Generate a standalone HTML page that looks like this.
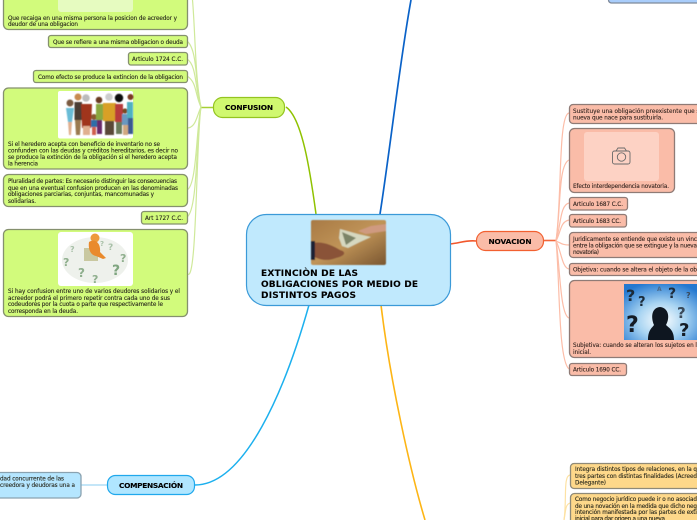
<!DOCTYPE html>
<html><head><meta charset="utf-8"><style>
html,body{margin:0;padding:0;background:#fff;width:697px;height:520px;overflow:hidden}
svg{display:block}
text{font-family:"DejaVu Sans",sans-serif;font-size:5.7px;fill:#26261a;stroke:#26261a;stroke-width:.12}
.b{font-weight:bold;fill:#000;stroke:#000;stroke-width:.1}
.n{fill:#33241f;stroke:#33241f}
.q{stroke:none;font-weight:bold}
.g{fill:#d2fb7c;stroke:#85906e;stroke-width:1.3}
.o{fill:#fabca8;stroke:#8f7b76;stroke-width:1.3}
.y{fill:#fed88a;stroke:#8f8a78;stroke-width:1.3}
.c{fill:#b5e6ff;stroke:#8aa2b0;stroke-width:1.3}
.lg{fill:none;stroke:#cfe99a;stroke-width:1.2}
.ln{fill:none;stroke:#fcbda8;stroke-width:1.2}
</style></head><body>
<svg width="697" height="520" viewBox="0 0 697 520" xmlns="http://www.w3.org/2000/svg">
<defs>
<linearGradient id="m" x1="0" y1="0" x2="1" y2="1"><stop offset="0" stop-color="#a87a45"/><stop offset=".5" stop-color="#c09458"/><stop offset="1" stop-color="#7a5630"/></linearGradient>
<radialGradient id="q" cx=".5" cy=".65" r=".7"><stop offset="0" stop-color="#fff"/><stop offset=".45" stop-color="#a8d4f2"/><stop offset="1" stop-color="#2478d0"/></radialGradient>
<filter id="bl" x="-10%" y="-10%" width="120%" height="120%"><feGaussianBlur stdDeviation=".5"/></filter>
</defs>
<!-- main connectors -->
<path d="M316 214C310 170 302 118 286 107" fill="none" stroke="#8fc200" stroke-width="1.5"/>
<path d="M380 214C390 150 400 60 411 0" fill="none" stroke="#0a62c8" stroke-width="1.7"/>
<path d="M450 244C460 243 466 240 476 241" fill="none" stroke="#f2572b" stroke-width="1.6"/>
<path d="M309 305C285 390 245 485 195 485" fill="none" stroke="#1cb0ee" stroke-width="1.5"/>
<path d="M381 305C390 380 410 470 425 520" fill="none" stroke="#fdb515" stroke-width="1.6"/>
<!-- confusion connectors -->
<path d="M213 107.500H201" fill="none" stroke="#a6d034" stroke-width="1.5"/>
<path class="lg" d="M201 107C195 80 195 20 192 -5"/>
<path class="lg" d="M201 107C195 85 198 50 187 41"/>
<path class="lg" d="M201 107C195 90 197 65 187 59"/>
<path class="lg" d="M201 107C195 95 197 82 187 76"/>
<path class="lg" d="M201 107C197 115 196 128 187 128"/>
<path class="lg" d="M201 107C196 130 197 185 187 190"/>
<path class="lg" d="M201 107C196 135 198 210 187 217"/>
<path class="lg" d="M201 107C196 140 197 290 187 273"/>
<!-- novacion connectors -->
<path d="M543 240.500H556" fill="none" stroke="#f2673a" stroke-width="1.6"/>
<path class="ln" d="M556 241C562 200 558 115 569 113"/>
<path class="ln" d="M556 241C561 210 558 165 569 160"/>
<path class="ln" d="M556 241C561 225 560 205 569 203"/>
<path class="ln" d="M556 241C561 232 560 222 569 220"/>
<path class="ln" d="M556 241C561 243 562 245 569 245"/>
<path class="ln" d="M556 241C561 250 562 268 569 269"/>
<path class="ln" d="M556 241C560 265 560 315 569 318"/>
<path class="ln" d="M556 241C560 280 558 360 569 369"/>
<!-- compensacion / bottom connectors -->
<path d="M107 485H81" fill="none" stroke="#a0d8f4" stroke-width="1.2"/>
<path d="M564 520C567 500 563 476 570 475" fill="none" stroke="#fde2a4" stroke-width="1.2"/>
<path d="M564 520C566 510 565 505 570 503" fill="none" stroke="#fde2a4" stroke-width="1.2"/>

<!-- top right box -->
<rect x="608.500" y="-10" width="100" height="13" rx="3" fill="#a9cdfb" stroke="#7f8a9a" stroke-width="1.3"/>

<!-- central -->
<rect x="246.500" y="214.500" width="204" height="91" rx="20" fill="#c0e9fd" stroke="#3b9ad8" stroke-width="1.2"/>
<g filter="url(#bl)">
<rect x="311" y="220" width="75" height="45" rx="2" fill="url(#m)"/>
<path d="M313 243C322 241 332 245 340 250C347 252 345 256 336 258C326 262 318 259 313 256Z" fill="#8a5238"/>
<path d="M386 224L371 226L358 231L366 234L386 231Z" fill="#cf9a80"/>
<path d="M340 229L358 234L371 237L360 242L348 248L342 246L339 238Z" fill="#d6d8c0"/>
<path d="M342 232L356 238L346 245Z" fill="#7c8468"/>
<path d="M311 241H315V260H311Z" fill="#1c2436"/>
</g>
<text class="b" x="261" y="276" style="font-size:9px" textLength="97">EXTINCIÒN DE LAS</text>
<text class="b" x="261" y="287" style="font-size:9px" textLength="157">OBLIGACIONES POR MEDIO DE</text>
<text class="b" x="261" y="298" style="font-size:9px" textLength="95">DISTINTOS PAGOS</text>

<!-- main topics -->
<rect x="213.500" y="97.500" width="71" height="20" rx="9" fill="#d0f870" stroke="#94c420" stroke-width="1.2"/>
<text class="b" x="225" y="110" style="font-size:7.400px" textLength="48">CONFUSION</text>
<rect x="476.500" y="231.500" width="67" height="19" rx="9" fill="#fabca8" stroke="#f26030" stroke-width="1.2"/>
<text class="b" x="488.500" y="244" style="font-size:7.400px" textLength="43">NOVACION</text>
<rect x="107.500" y="475.500" width="87" height="19" rx="8" fill="#b0e6ff" stroke="#20a8ec" stroke-width="1.2"/>
<text class="b" x="119" y="488" style="font-size:7.400px" textLength="64">COMPENSACIÓN</text>

<!-- green boxes -->
<rect class="g" x="3.500" y="-20" width="184" height="49.500" rx="5"/>
<rect x="58" y="-10" width="75" height="22" rx="3" fill="#e6fbc0"/>
<text x="8" y="20" textLength="169">Que recaiga en una misma persona la posicion de acreedor y</text>
<text x="8" y="26" textLength="70">deudor de una obligacion</text>
<rect class="g" x="48.500" y="35.500" width="139" height="12" rx="2.500"/>
<text x="53" y="44" textLength="130">Que se refiere a una misma obligacion o deuda</text>
<rect class="g" x="128.500" y="52.500" width="59" height="12.500" rx="2.500"/>
<text x="132" y="61" textLength="51">Articulo 1724 C.C.</text>
<rect class="g" x="33.500" y="70.500" width="154" height="12" rx="2.500"/>
<text x="38" y="79" textLength="145">Como efecto se produce la extincion de la obligacion</text>

<rect class="g" x="3.500" y="88" width="184" height="81" rx="5"/>
<rect x="58" y="91" width="75" height="47.500" rx="2" fill="#fff"/>
<g filter="url(#bl)">
<circle cx="70" cy="103" r="3.500" fill="#7a5a40"/><path d="M66 108H74L72 122H68Z" fill="#69bcd6"/><path d="M68 122H72L71 135H69Z" fill="#e0b090"/>
<circle cx="78" cy="97" r="3.500" fill="#c88a50"/><path d="M74.500 102H82V120H74.500Z" fill="#4a3c34"/><path d="M75 120H81L80 135H76Z" fill="#9a7a50"/>
<circle cx="86" cy="98" r="3.800" fill="#bbb"/><path d="M81 104H92L91 128H82Z" fill="#a0341c"/><path d="M83 126H90V135H83Z" fill="#e0b090"/>
<circle cx="94" cy="117" r="3" fill="#8a5a30"/><path d="M91 120H97V127H91Z" fill="#2d6ea8"/><path d="M92 127H96V135H92Z" fill="#d06050"/>
<circle cx="99" cy="100" r="3.300" fill="#6a3a20"/><path d="M96 104H103V120H96Z" fill="#8aa840"/><path d="M97 120H102V134H97Z" fill="#6a2a6a"/>
<circle cx="109" cy="97" r="3.800" fill="#ccc"/><path d="M103 103H116V121H103Z" fill="#d8a028"/><path d="M105 121H114V135H105Z" fill="#5a4a38"/>
<circle cx="119" cy="98" r="4.200" fill="#111"/><path d="M115 104H123V122H115Z" fill="#b83a3a"/><path d="M116 122H122V134H116Z" fill="#6a7a5a"/>
<circle cx="125" cy="111" r="2.600" fill="#7a4a20"/><path d="M122 114H129V125H122Z" fill="#6a98c0"/><path d="M123 125H128V135H123Z" fill="#d0a880"/>
<circle cx="130.500" cy="97" r="3" fill="#7a3a20"/><path d="M127 102H133V118H127Z" fill="#50b0c0"/><path d="M128 118H133V134H128Z" fill="#3a5a90"/>
</g>
<text x="8" y="146" textLength="152">Si el heredero acepta con beneficio de inventario no se</text>
<text x="8" y="152.500" textLength="170">confunden con las deudas y créditos hereditarios, es decir no</text>
<text x="8" y="159" textLength="169">se produce la extinción de la obligación si el heredero acepta</text>
<text x="8" y="165.500" textLength="30">la herencia</text>

<rect class="g" x="3.500" y="174.500" width="184" height="32" rx="5"/>
<text x="8" y="183" textLength="169">Pluralidad de partes: Es necesario distinguir las consecuencias</text>
<text x="8" y="190" textLength="170">que en una eventual confusion producen en las denominadas</text>
<text x="8" y="196" textLength="146">obligaciones parciarias, conjuntas, mancomunadas y</text>
<text x="8" y="203" textLength="28">solidarias.</text>

<rect class="g" x="141.500" y="211.500" width="46" height="12.500" rx="2.500"/>
<text x="145" y="220" textLength="38">Art 1727 C.C.</text>

<rect class="g" x="3.500" y="229.500" width="184" height="87" rx="5"/>
<rect x="58" y="232" width="75" height="54" rx="3" fill="#fff"/>
<ellipse cx="95" cy="260" rx="33" ry="23" fill="#eef1ec"/>
<text class="q" x="63" y="266" style="font-size:11px;fill:#8faf8e;stroke:none">?</text><text class="q" x="70" y="252" style="font-size:8px;fill:#a8c0a8;stroke:none">?</text><text class="q" x="78" y="277" style="font-size:12px;fill:#8faf8e;stroke:none">?</text><text class="q" x="92" y="283" style="font-size:11px;fill:#8faf8e;stroke:none">?</text><text class="q" x="112" y="275" style="font-size:14px;fill:#7fa580;stroke:none">?</text><text class="q" x="120" y="262" style="font-size:11px;fill:#8faf8e;stroke:none">?</text><text class="q" x="108" y="250" style="font-size:9px;fill:#a8c0a8;stroke:none">?</text><text class="q" x="100" y="246" style="font-size:7px;fill:#a8c0a8;stroke:none">?</text>
<rect x="84" y="248" width="14" height="13" fill="#c9c8a0"/>
<circle cx="95" cy="238" r="4.500" fill="#ed9a3c"/>
<path d="M89 242C95 238 101 243 100 252L106 258L103 259L96 256C90 255 88 248 89 242Z" fill="#e98a2c"/>
<text x="8" y="293" textLength="172">Si hay confusion entre uno de varios deudores solidarios y el</text>
<text x="8" y="300" textLength="162">acreedor podrá el primero repetir contra cada uno de sus</text>
<text x="8" y="306" textLength="155">codeudores por la cuota o parte que respectivamente le</text>
<text x="8" y="313" textLength="70">corresponda en la deuda.</text>

<!-- novacion boxes -->
<rect class="o" x="569.500" y="104.500" width="140" height="19" rx="3.500"/>
<text class="n" x="573" y="113" textLength="130">Sustituye una obligación preexistente que se</text>
<text class="n" x="573" y="119.500" textLength="90">nueva que nace para sustituirla.</text>
<rect class="o" x="569.500" y="128.500" width="105" height="64" rx="5"/>
<rect x="584" y="132" width="75" height="49" rx="3" fill="#fdd2c4"/>
<g fill="none" stroke="#6a6a6a" stroke-width=".9"><rect x="612.500" y="151" width="17.500" height="13" rx="2"/><path d="M616 151L618 148H624.500L626.500 151"/><circle cx="621.500" cy="157" r="4.200"/></g>
<text class="n" x="573" y="188" textLength="96">Efecto interdependencia novatoria.</text>
<rect class="o" x="569.500" y="197.500" width="58" height="12.500" rx="2.500"/>
<text class="n" x="573" y="206" textLength="50">Articulo 1687 C.C.</text>
<rect class="o" x="569.500" y="214.500" width="57" height="12.500" rx="2.500"/>
<text class="n" x="573" y="223" textLength="48">Articulo 1683 CC.</text>
<rect class="o" x="569.500" y="232.500" width="140" height="25" rx="3.500"/>
<text class="n" x="573" y="241" textLength="124">Juridicamente se entiende que existe un vinc</text>
<text class="n" x="573" y="247.500" textLength="124">entre la obligación que se extingue y la nueva</text>
<text class="n" x="573" y="254" textLength="26">novatoria)</text>
<rect class="o" x="569.500" y="263.500" width="140" height="12" rx="2.500"/>
<text class="n" x="573" y="271.500" textLength="124">Objetiva: cuando se altera el objeto de la ob</text>
<rect class="o" x="569.500" y="280.500" width="140" height="77" rx="5"/>
<rect x="624" y="284" width="75" height="56" fill="url(#q)"/>
<path d="M648 340C648 330 652 328 654 325C651 318 651 308 660 307C669 308 670 318 666 325C669 328 674 330 674 340Z" fill="#0e1620"/>
<text class="q" x="626" y="301" style="font-size:16px;fill:#1b2a38;stroke:none">?</text>
<text class="q" x="638" y="306" style="font-size:13px;fill:#1b2a38;stroke:none">?</text>
<text class="q" x="626" y="332" style="font-size:22px;fill:#141c26;stroke:none">?</text>
<text class="q" x="668" y="298" style="font-size:14px;fill:#1e2c3c;stroke:none">?</text>
<text class="q" x="677" y="318" style="font-size:15px;fill:#3a4a5a;stroke:none">?</text>
<text class="q" x="679" y="336" style="font-size:18px;fill:#141c26;stroke:none">?</text>
<text class="q" x="686" y="298" style="font-size:8px;fill:#3a4a5a;stroke:none">?</text>
<text class="q" x="657" y="291" style="font-size:6px;fill:#4a6a8a;stroke:none">A</text>
<text class="n" x="573" y="347" textLength="124">Subjetiva: cuando se alteran los sujetos en l</text>
<text class="n" x="573" y="354" textLength="18">inicial.</text>
<rect class="o" x="569.500" y="363.500" width="57" height="12" rx="2.500"/>
<text class="n" x="573" y="371.500" textLength="48">Articulo 1690 CC.</text>

<!-- bottom right boxes -->
<rect class="y" x="570.500" y="463.500" width="140" height="25" rx="3.500"/>
<text x="575" y="471" textLength="122">Integra distintos tipos de relaciones, en la q</text>
<text x="575" y="478" textLength="122">tres partes con distintas finalidades (Acreed</text>
<text x="575" y="484.500" textLength="31">Delegante)</text>
<rect class="y" x="570.500" y="493.500" width="140" height="40" rx="4"/>
<text x="575" y="501" textLength="122">Como negocio jurídico puede ir o no asociad</text>
<text x="575" y="508" textLength="122">de una novación en la medida que dicho neg</text>
<text x="575" y="514" textLength="122">intención manifestada por las partes de exti</text>
<text x="575" y="520.500" textLength="90">inicial para dar origen a una nueva</text>

<!-- compensacion leaf -->
<rect class="c" x="-10" y="472.500" width="91" height="25.500" rx="4"/>
<text x="0" y="480.500" textLength="64">dad concurrente de las</text>
<text x="0" y="487" textLength="75">creedora y deudoras una a</text>
</svg>
</body></html>
